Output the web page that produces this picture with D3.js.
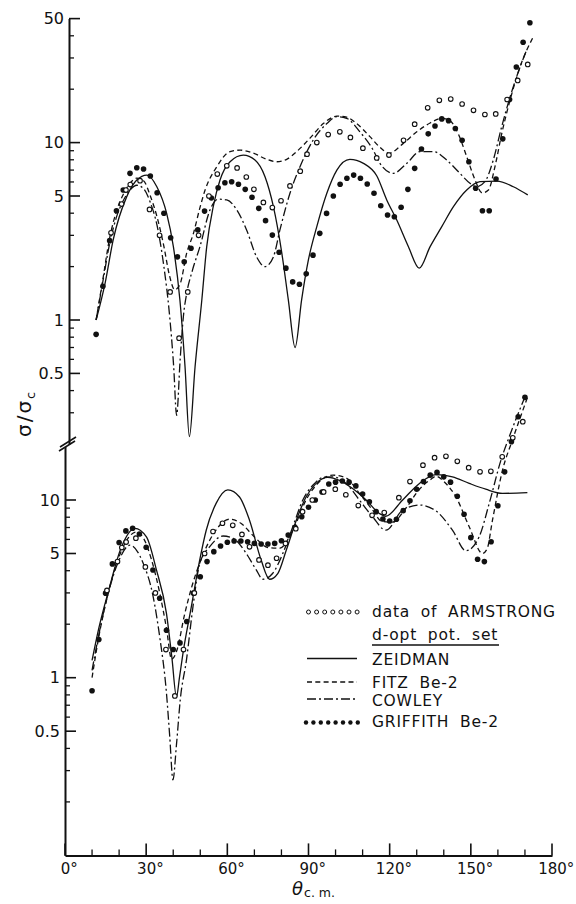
<!DOCTYPE html>
<html>
<head>
<meta charset="utf-8">
<script src="https://cdnjs.cloudflare.com/ajax/libs/d3/7.8.5/d3.min.js"></script>
<style>
  body { margin: 0; background: #fff; }
  svg { font-family: "DejaVu Sans", sans-serif; }
</style>
</head>
<body>
<div id="chart"></div>
<script>
// data: angle (deg, c.m.) and sigma / sigma_c

// experimental points of Armstrong (same in both panels)
var armAngle = [15.5, 19.4, 21.0, 22.6, 26.2, 29.7, 33.4, 37.3, 40.6, 43.8, 47.8, 51.6, 54.7, 58.2, 62.0,
  65.4, 68.2, 71.7, 75.0, 78.2, 81.5, 85.3, 87.8, 91.4, 95.6, 99.9, 103.8, 108.4, 113.5, 118.0,
  123.4, 127.5, 132.3, 136.6, 140.8, 145.0, 149.2, 153.4, 157.4, 161.6, 165.5, 169.2];
var armValue = [3.1, 4.5, 5.4, 5.8, 6.1, 4.2, 3.0, 1.44, 0.79, 1.44, 3.0, 5.0, 6.65, 7.4, 7.2,
  6.4, 5.45, 4.6, 4.3, 4.7, 5.7, 6.9, 8.6, 10.0, 11.1, 11.5, 10.7, 9.3, 8.2, 8.5,
  10.3, 12.7, 15.7, 17.3, 17.6, 16.5, 15.2, 14.4, 14.5, 17.5, 22.4, 27.6];

// griffith be-2 calculation, drawn as a row of dots
var griffAngle = [10, 12.5, 15, 17.5, 20, 22.5, 25, 27.5, 30, 32.5, 35, 37.5, 40, 42.5, 45, 47.5,
  50, 52.5, 55, 57.5, 60, 62.5, 65, 67.5, 70, 72.5, 75, 77.5, 80, 82.5, 85, 87.5,
  90, 92.5, 95, 97.5, 100, 102.5, 105, 107.5, 110, 112.5, 115, 117.5, 120, 122.5, 125, 127.5,
  130, 132.5, 135, 137.5, 140, 142.5, 145, 147.5, 150, 152.5, 155, 157.5, 160, 162.5, 165, 167.5, 170];
var griffTop = [0.83, 1.55, 2.8, 4.13, 5.4, 6.71, 7.22, 7.1, 6.48, 5.22, 4.0, 2.91, 2.27, 2.13, 2.54, 3.22,
  4.11, 4.87, 5.57, 5.94, 6.02, 5.82, 5.45, 4.92, 4.26, 3.63, 3.01, 2.41, 1.96, 1.64, 1.59, 1.82,
  2.32, 3.08, 3.99, 5.0, 5.82, 6.29, 6.56, 6.29, 5.84, 5.18, 4.41, 3.91, 3.82, 4.32, 5.45, 7.16,
  9.2, 11.2, 12.4, 13.6, 13.3, 12.0, 10.3, 7.8, 5.53, 4.13, 4.13, 6.24, 10.5, 17.5, 26.7, 36.8, 47.4];
var griffBottom = [0.845, 1.64, 2.99, 4.37, 5.76, 6.7, 6.93, 6.44, 5.42, 4.04, 2.8, 1.85, 1.44, 1.57, 2.07, 2.99,
  3.7, 4.5, 5.12, 5.51, 5.78, 5.88, 5.88, 5.82, 5.7, 5.65, 5.65, 5.7, 5.9, 6.35, 7.02, 8.05,
  9.1, 10.0, 11.1, 12.3, 12.6, 12.8, 12.6, 12.0, 10.8, 9.78, 8.6, 7.82, 7.62, 7.79, 8.71, 9.91,
  11.5, 12.7, 13.8, 14.3, 13.5, 12.6, 10.5, 8.31, 6.14, 4.64, 4.5, 5.82, 9.29, 14.4, 21.3, 29.4, 37.8];

// upper panel curves [angle, value]
var zeidmanTop = [[10, 1.0], [13.3, 1.61], [16.3, 2.83], [21.3, 4.96], [25, 6.15], [28.7, 6.56], [32.4, 5.64],
  [36, 4.0], [38.5, 2.59], [40.9, 1.3], [42.8, 0.545], [44.4, 0.22], [46.5, 0.545], [49, 1.3], [50.8, 2.59],
  [53.2, 4.35], [55.7, 6.15], [59.4, 7.8], [64.3, 8.5], [68.6, 7.98], [72.3, 6.42], [75.4, 4.35], [78.5, 2.38],
  [80.9, 1.3], [83.4, 0.7], [85.8, 1.3], [88.3, 2.18], [91.4, 3.36], [95.1, 5.18], [98.8, 7.0], [103.6, 8.05],
  [108.6, 7.64], [113.5, 6.5], [117.2, 4.75], [120.9, 3.66], [125.2, 2.59], [129.2, 1.96], [133.2, 2.59],
  [137.5, 3.36], [141.8, 4.35], [146.7, 5.4], [151.6, 6.02], [157.8, 6.07], [163.9, 5.64], [169.2, 5.07]];
var fitzTop = [[10, 1.0], [12.5, 1.7], [15, 2.9], [17.5, 4.1], [20, 5.1], [22.5, 5.9], [25, 6.3], [27.5, 6.1],
  [30, 5.0], [32.5, 3.8], [35, 2.6], [37, 1.8], [39, 1.48], [41, 1.6], [43.4, 2.38], [45.9, 3.08], [48.3, 4.3],
  [50.2, 5.4], [54.5, 7.3], [59.4, 8.9], [63.1, 9.07], [68, 8.72], [72.9, 8.05], [76.6, 7.8], [80.3, 8.05],
  [84, 8.9], [88.9, 10.6], [93.8, 12.8], [98.8, 14.1], [102.4, 13.9], [106.1, 12.8], [111, 10.8], [114.7, 9.4],
  [118, 8.72], [123.3, 9.9], [128.3, 11.5], [133.2, 12.9], [137.5, 13.7], [140.5, 13.3], [143.6, 11.2],
  [146.7, 8.33], [149.8, 6.15], [152.4, 5.2], [154.7, 5.4], [157.1, 7.3], [159.6, 11.2], [162.7, 17.4],
  [166.4, 26.8], [171.3, 39.6]];
var cowleyTop = [[10, 1.0], [12.5, 1.65], [15, 2.7], [17.5, 3.8], [20, 4.7], [22.5, 5.4], [25, 5.75], [27.5, 5.5],
  [30, 4.6], [32.5, 3.4], [35, 2.0], [37, 1.1], [38.6, 0.55], [39.7, 0.29], [41, 0.6], [42.2, 1.05], [43.4, 1.41],
  [45.5, 1.9], [48.3, 2.59], [52, 4.17], [55.1, 4.8], [58.2, 4.75], [61.9, 4.17], [65.5, 3.22], [69.2, 2.27],
  [72.3, 2.0], [75.4, 2.27], [77.8, 3.22], [81.5, 5.18], [85.2, 7.3], [90.1, 10.35], [95.1, 12.8], [98.8, 14.0],
  [102.4, 13.7], [107.3, 11.5], [112.2, 9.07], [114.7, 7.64], [119.6, 6.71], [124.6, 7.64], [129.5, 8.9],
  [134.4, 8.9], [139.3, 7.98], [144.2, 6.71], [147.9, 5.9], [150.4, 5.64], [153.4, 6.02], [156.5, 7.98],
  [159.6, 12.3], [162.7, 18.1], [165.1, 23.5], [168.8, 33.3]];

// lower panel curves [angle, value]
var zeidmanBottom = [[10, 1.25], [12.5, 1.9], [16, 3.05], [20.9, 5.46], [25.8, 6.93], [30.1, 6.2], [33.8, 4.04],
  [37.5, 2.3], [39.5, 1.3], [41.2, 0.78], [42.3, 1.0], [43.6, 1.37], [46.7, 2.51], [49.8, 4.6], [52.2, 6.76],
  [55.9, 9.6], [60.2, 11.4], [64.5, 10.4], [68.2, 7.7], [72.5, 4.59], [75.6, 3.58], [78.7, 3.87], [81.8, 5.23],
  [85.5, 7.7], [89.1, 10.4], [92.8, 12.4], [97.1, 13.4], [101.4, 12.9], [106.3, 11.6], [111.3, 10.0],
  [116.2, 8.4], [118.5, 8.1], [124.8, 10.0], [131, 12.4], [137.1, 13.9], [143.2, 13.5], [149.4, 12.4],
  [155.5, 11.5], [161.7, 10.9], [170.9, 11.0]];
var fitzBottom = [[10, 1.0], [12.5, 1.7], [16, 3.0], [20, 4.8], [23, 6.0], [26.4, 6.6], [29, 6.1], [32, 4.6],
  [35, 3.0], [37.5, 1.9], [39.4, 1.27], [41.5, 1.45], [44, 2.2], [47, 3.3], [50, 4.5], [55, 6.5], [60.9, 7.8],
  [65, 7.4], [70, 6.2], [75, 5.4], [79.3, 5.35], [84.2, 6.76], [89.1, 10.0], [94.1, 12.7], [99, 13.8],
  [103.9, 13.3], [108.8, 10.9], [113.7, 8.77], [117, 7.6], [121, 7.5], [126, 9.0], [131, 11.5], [135, 13.0],
  [137.1, 13.6], [140.5, 12.5], [144.5, 10.4], [149.4, 7.07], [154.3, 5.0], [156, 5.3], [158, 7.7],
  [161.7, 14.7], [165.4, 21.8], [171, 38]];
var cowleyBottom = [[10, 1.1], [12.5, 1.75], [16, 3.0], [20, 4.6], [24, 5.57], [28.9, 4.4], [32.6, 2.85],
  [35, 1.7], [37.5, 0.82], [38.7, 0.47], [39.9, 0.266], [41.2, 0.42], [42.6, 0.75], [44.9, 1.26], [47.3, 2.51],
  [49.8, 4.4], [53.5, 5.46], [58.4, 6.27], [62.1, 6.09], [67, 5.0], [70.7, 4.04], [73.1, 3.58], [76.8, 3.87],
  [80.5, 5.0], [84.2, 7.07], [87.9, 10.0], [91.6, 12.1], [95.3, 13.4], [99, 13.5], [103.9, 12.4], [108.8, 10.0],
  [113.7, 8.04], [118.6, 6.76], [124.8, 8.77], [131, 9.37], [137.1, 8.68], [143.2, 6.76], [148.2, 5.18],
  [153.1, 6.22], [156.8, 9.57], [161.1, 16.7], [164.2, 22.7], [170, 38]];

// ticks
var xTicks = [0, 30, 60, 90, 120, 150, 180];
var xMinor = [10, 20, 40, 50, 70, 80, 100, 110, 130, 140, 160, 170];
var topTicks = [0.5, 1, 5, 10, 50];
var topMinor = [0.3, 0.4, 0.6, 0.7, 0.8, 0.9, 2, 3, 4, 6, 7, 8, 9, 20, 30, 40];
var bottomTicks = [0.5, 1, 5, 10];
var bottomMinor = [0.2, 0.3, 0.4, 0.6, 0.7, 0.8, 0.9, 2, 3, 4, 6, 7, 8, 9];

// legend
var legendLabels = ["data of ARMSTRONG", "ZEIDMAN", "FITZ Be-2", "COWLEY", "GRIFFITH Be-2"];
var legendTitle = "d-opt pot. set";


// layout
var width = 576, height = 904;

var svg = d3.select("#chart")
  .append("svg")
    .attr("width", width)
    .attr("height", height);

// the scan is slightly tilted, so the upper panel sits a few px right
var xTop = d3.scaleLinear().domain([0, 180]).range([69, 557]);
var xBot = d3.scaleLinear().domain([0, 180]).range([65, 552]);
var yTop = d3.scaleLog().domain([0.2, 50]).range([444, 18.6]);
var yBot = d3.scaleLog().domain([0.1, 20]).range([855.4, 446.5]);

// y axes: labels and spine from d3.axisLeft, inward ticks drawn as lines
function yAxis(y, x0, major, minor) {
  var g = svg.append("g")
    .attr("transform", "translate(" + x0 + ",0)")
    .call(d3.axisLeft(y).tickValues(major).tickSize(0).tickPadding(5).tickFormat(d3.format("~g")));
  g.select(".domain").attr("stroke", "#111").attr("stroke-width", 2);
  g.selectAll("text").attr("font-size", 16).attr("font-family", "DejaVu Sans").attr("fill", "#111");

  [[major, 11, 1.6], [minor, 5, 1.3]].forEach(function(t) {
    svg.append("g").selectAll("line")
      .data(t[0])
      .join("line")
        .attr("x1", x0).attr("x2", x0 + t[1])
        .attr("y1", function(d) { return y(d); })
        .attr("y2", function(d) { return y(d); })
        .attr("stroke", "#111").attr("stroke-width", t[2]);
  });
}
yAxis(yTop, xTop(0), topTicks, topMinor);
yAxis(yBot, xBot(0), bottomTicks, bottomMinor);

// axis break
var bx = (xTop(0) + xBot(0)) / 2, by = yTop(0.2);
[[-8, 7, 8, -3], [-7, 3, 9, -7]].forEach(function(s) {
  svg.append("line")
    .attr("x1", bx + s[0]).attr("y1", by + s[1])
    .attr("x2", bx + s[2]).attr("y2", by + s[3])
    .attr("stroke", "#111").attr("stroke-width", 1.6);
});

// x axis
var y0 = yBot(0.1);
var xg = svg.append("g")
  .attr("transform", "translate(0," + y0 + ")")
  .call(d3.axisBottom(xBot).tickValues(xTicks).tickSize(0)
    .tickPadding(8).tickFormat(function(d) { return d + "°"; }));
xg.select(".domain").attr("stroke", "#111").attr("stroke-width", 2);
xg.selectAll("text").attr("font-size", 15).attr("font-family", "DejaVu Sans")
  .attr("fill", "#111").attr("dx", "0.25em");

[[xTicks, 12, 1.6], [xMinor, 6, 1.3]].forEach(function(t) {
  svg.append("g").selectAll("line")
    .data(t[0])
    .join("line")
      .attr("x1", function(d) { return xBot(d); })
      .attr("x2", function(d) { return xBot(d); })
      .attr("y1", y0).attr("y2", y0 - t[1])
      .attr("stroke", "#111").attr("stroke-width", t[2]);
});

// axis titles
var yt = svg.append("text")
  .attr("transform", "translate(31,437) rotate(-90)")
  .attr("font-size", 20).attr("fill", "#111").attr("letter-spacing", 2);
yt.append("tspan").text("σ/σ");
yt.append("tspan").attr("font-size", 13).attr("dy", 4).text("c");

var xt = svg.append("text")
  .attr("x", 292).attr("y", 895).attr("fill", "#111");
xt.append("tspan").attr("font-size", 18).attr("font-style", "italic").text("θ");
xt.append("tspan").attr("font-size", 12.5).attr("dy", 2).attr("dx", 1).text("c. m.");

// curves
var dashes = { zeidman: null, fitz: "5,3.3", cowley: "9,3,2,3" };

function curves(x, y, list) {
  var line = d3.line()
    .x(function(d) { return x(d[0]); })
    .y(function(d) { return y(d[1]); })
    .curve(d3.curveMonotoneX);
  list.forEach(function(c) {
    svg.append("path")
      .attr("d", line(c[0]))
      .attr("fill", "none")
      .attr("stroke", "#111")
      .attr("stroke-width", 1.3)
      .attr("stroke-dasharray", c[1]);
  });
}
curves(xTop, yTop, [[zeidmanTop, dashes.zeidman], [fitzTop, dashes.fitz], [cowleyTop, dashes.cowley]]);
curves(xBot, yBot, [[zeidmanBottom, dashes.zeidman], [fitzBottom, dashes.fitz], [cowleyBottom, dashes.cowley]]);

// dots
function points(x, y, values) {
  svg.append("g").selectAll("circle")
    .data(griffAngle)
    .join("circle")
      .attr("cx", function(d) { return x(d); })
      .attr("cy", function(d, i) { return y(values[i]); })
      .attr("r", 2.8)
      .attr("fill", "#111");
  svg.append("g").selectAll("circle")
    .data(armAngle)
    .join("circle")
      .attr("cx", function(d) { return x(d); })
      .attr("cy", function(d, i) { return y(armValue[i]); })
      .attr("r", 2.3)
      .attr("fill", "#fff")
      .attr("stroke", "#111")
      .attr("stroke-width", 1.1);
}
points(xTop, yTop, griffTop);
points(xBot, yBot, griffBottom);

// legend
var lg = svg.append("g").attr("fill", "#111").attr("font-size", 15.5).attr("letter-spacing", 0.8).attr("word-spacing", 5);
var lx = 307, lw = 50, tx = 372;
var rowY = [612, 658.5, 682, 699, 722.5];   // symbol rows
var textY = [617, 665, 687.5, 705.5, 727];  // text baselines

d3.range(7).forEach(function(i) {
  lg.append("circle").attr("cx", lx + 1.5 + i * 8.1).attr("cy", rowY[0]).attr("r", 2)
    .attr("fill", "#fff").attr("stroke", "#111").attr("stroke-width", 1);
});
["zeidman", "fitz", "cowley"].forEach(function(k, i) {
  lg.append("line").attr("x1", lx).attr("x2", lx + lw).attr("y1", rowY[i + 1]).attr("y2", rowY[i + 1])
    .attr("stroke", "#111").attr("stroke-width", 1.3).attr("stroke-dasharray", dashes[k]);
});
d3.range(8).forEach(function(i) {
  lg.append("circle").attr("cx", lx - 1 + i * 7.4).attr("cy", rowY[4]).attr("r", 2.2).attr("fill", "#111");
});
legendLabels.forEach(function(t, i) {
  lg.append("text").attr("x", tx).attr("y", textY[i]).text(t);
});
lg.append("text").attr("x", tx).attr("y", 639.5).text(legendTitle);
lg.append("line").attr("x1", tx).attr("x2", 499).attr("y1", 645).attr("y2", 645)
  .attr("stroke", "#111").attr("stroke-width", 1.3);
</script>
</body>
</html>
